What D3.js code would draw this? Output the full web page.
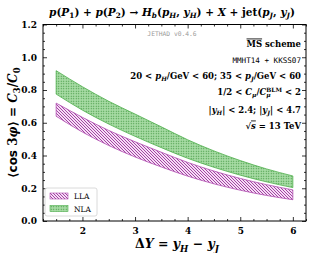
<!DOCTYPE html>
<html>
<head>
<meta charset="utf-8">
<script src="https://cdn.jsdelivr.net/npm/d3@7"></script>
<style>
  body { margin: 0; background: #fff; }
  svg { display: block; }
  .tick text { font-family: "DejaVu Serif", serif; font-weight: bold; font-size: 9px; fill: #000; }
  .tick line { stroke: #000; stroke-width: 0.8; }
</style>
</head>
<body>
<svg id="chart"></svg>
<script>
// values
const deltaY = [1.5, 2, 2.5, 3, 3.5, 4, 4.5, 5, 5.5, 6];
const llaHi = [0.72, 0.633, 0.553, 0.484, 0.42, 0.358, 0.305, 0.26, 0.222, 0.19];
const llaLo = [0.64, 0.543, 0.461, 0.391, 0.33, 0.274, 0.227, 0.188, 0.156, 0.13];
const nlaHi = [0.918, 0.82, 0.731, 0.653, 0.575, 0.496, 0.428, 0.369, 0.318, 0.275];
const nlaLo = [0.775, 0.677, 0.592, 0.517, 0.448, 0.383, 0.328, 0.28, 0.239, 0.204];
const xTicks = [2, 3, 4, 5, 6];
const yTicks = [0, 0.2, 0.4, 0.6, 0.8, 1.0, 1.2];

const W = 316, H = 253;
const box = { left: 43, right: 306, top: 24.5, bottom: 221 };

const svg = d3.select("#chart").attr("width", W).attr("height", H);

const x = d3.scaleLinear().domain([1.25, 6.25]).range([box.left, box.right]);
const y = d3.scaleLinear().domain([0, 1.2]).range([box.bottom, box.top]);

// hatch patterns
const defs = svg.append("defs");
const lp = defs.append("pattern")
	.attr("id", "hatchLLA")
	.attr("patternUnits", "userSpaceOnUse")
	.attr("width", 3).attr("height", 3);
lp.append("rect").attr("width", 3).attr("height", 3).attr("fill", "#f6dcf6");
lp.append("path")
	.attr("d", "M0,0L3,3M-1,2L1,4M2,-1L4,1")
	.attr("stroke", "#8c1f8c").attr("stroke-width", 0.8);

const np = defs.append("pattern")
	.attr("id", "dotsNLA")
	.attr("patternUnits", "userSpaceOnUse")
	.attr("width", 2.5).attr("height", 2.5);
np.append("rect").attr("width", 2.5).attr("height", 2.5).attr("fill", "#a8dca5");
np.append("circle").attr("cx", 1.25).attr("cy", 1.25).attr("r", 0.6).attr("fill", "#3a923a");

const plot = svg.append("g");

const area = (lo, hi) => d3.area()
	.x((d, i) => x(deltaY[i]))
	.y0((d, i) => y(lo[i]))
	.y1((d, i) => y(hi[i]))
	.curve(d3.curveMonotoneX)(deltaY);

plot.append("path")
	.attr("d", area(nlaLo, nlaHi))
	.attr("fill", "url(#dotsNLA)")
	.attr("stroke", "#4cae4a")
	.attr("stroke-width", 0.8);

plot.append("path")
	.attr("d", area(llaLo, llaHi))
	.attr("fill", "url(#hatchLLA)")
	.attr("stroke", "#b04cb0")
	.attr("stroke-width", 0.8);

// axes, ticks pointing inward on all four sides
const xMinor = d3.range(1.25, 6.26, 0.25).filter(v => !xTicks.includes(Math.round(v * 100) / 100));
const yMinor = d3.range(0, 1.201, 0.05).filter(v => Math.round(v * 100) % 20 !== 0);

function addAxis(axis, tx, ty, labels) {
	const g = svg.append("g").attr("transform", `translate(${tx},${ty})`).call(axis);
	g.select(".domain").remove();
	if (!labels) g.selectAll("text").remove();
	return g;
}

addAxis(d3.axisBottom(x).tickValues(xTicks).tickSize(-4).tickPadding(7).tickFormat(d3.format("d")), 0, box.bottom, true);
addAxis(d3.axisBottom(x).tickValues(xMinor).tickSize(-2), 0, box.bottom, false);
addAxis(d3.axisTop(x).tickValues(xTicks).tickSize(-4), 0, box.top, false);
addAxis(d3.axisTop(x).tickValues(xMinor).tickSize(-2), 0, box.top, false);
addAxis(d3.axisLeft(y).tickValues(yTicks).tickSize(-4).tickPadding(6).tickFormat(d3.format(".1f")), box.left, 0, true);
addAxis(d3.axisLeft(y).tickValues(yMinor).tickSize(-2), box.left, 0, false);
addAxis(d3.axisRight(y).tickValues(yTicks).tickSize(-4), box.right, 0, false);
addAxis(d3.axisRight(y).tickValues(yMinor).tickSize(-2), box.right, 0, false);

svg.append("rect")
	.attr("x", box.left).attr("y", box.top)
	.attr("width", box.right - box.left).attr("height", box.bottom - box.top)
	.attr("fill", "none").attr("stroke", "#000").attr("stroke-width", 1);

// rich text: parts are [text, style]; style: i italic, b sub, p sup, s sans, k stacked over previous
function rich(sel, parts, size) {
	let shift = 0;
	let prev = null;
	parts.forEach(([t, s]) => {
		s = s || "";
		const ts = sel.append("tspan").text(t);
		let target = 0;
		if (s.includes("b")) target = size * 0.28;
		if (s.includes("p")) target = -size * 0.38;
		ts.attr("dy", target - shift);
		shift = target;
		if (s.includes("b") || s.includes("p")) ts.attr("font-size", size * 0.7);
		if (s.includes("i")) ts.attr("font-style", "italic");
		if (s.includes("s")) ts.attr("font-family", "'DejaVu Sans', sans-serif");
		if (s.includes("k") && prev) ts.attr("dx", -prev.node().getComputedTextLength());
		prev = ts;
	});
	return sel;
}

const serif = "'DejaVu Serif', serif";

// title
const title = svg.append("text")
	.attr("x", 172).attr("y", 15.5)
	.attr("text-anchor", "middle")
	.attr("font-family", serif).attr("font-weight", "bold").attr("font-size", 10.5);
rich(title, [
	["p", "i"], ["("], ["P", "i"], ["1", "b"], [")"], [" + "], ["p", "i"], ["("], ["P", "i"], ["2", "b"], [")"],
	[" → "], ["H", "i"], ["b", "bi"], ["("], ["p", "i"], ["H", "bi"], [", "], ["y", "i"], ["H", "bi"], [")"],
	[" + "], ["X", "i"], [" + jet("], ["p", "i"], ["J", "bi"], [", "], ["y", "i"], ["J", "bi"], [")"]
], 10.5);

// watermark
svg.append("text")
	.attr("x", 172).attr("y", 35.5)
	.attr("text-anchor", "middle")
	.attr("font-family", "'DejaVu Sans Mono', monospace").attr("font-size", 6.3)
	.attr("fill", "#9a9a9a")
	.text("JETHAD v0.4.6");

// annotations
const noteX = 301;
const ms = svg.append("text")
	.attr("x", noteX).attr("y", 46.5)
	.attr("text-anchor", "end")
	.attr("font-family", serif).attr("font-weight", "bold").attr("font-size", 8.5);
ms.append("tspan").attr("text-decoration", "overline").text("MS");
ms.append("tspan").text(" scheme");

svg.append("text")
	.attr("x", noteX).attr("y", 62.5)
	.attr("text-anchor", "end")
	.attr("font-family", "'DejaVu Sans Mono', monospace").attr("font-size", 7.6)
	.text("MMHT14 + KKSS07");

const note3 = svg.append("text")
	.attr("x", noteX).attr("y", 78.5)
	.attr("text-anchor", "end")
	.attr("font-family", serif).attr("font-weight", "bold").attr("font-size", 8.5);
rich(note3, [["20 < "], ["p", "i"], ["H", "bi"], ["/GeV < 60;  35 < "], ["p", "i"], ["J", "bi"], ["/GeV < 60"]], 8.5);

const note4 = svg.append("text")
	.attr("x", noteX).attr("y", 95)
	.attr("text-anchor", "end")
	.attr("font-family", serif).attr("font-weight", "bold").attr("font-size", 8.5);
rich(note4, [["1/2 < "], ["C", "i"], ["μ", "bi"], ["/"], ["C", "i"], ["μ", "bi"], ["BLM", "pk"], [" < 2"]], 8.5);

const note5 = svg.append("text")
	.attr("x", noteX).attr("y", 113)
	.attr("text-anchor", "end")
	.attr("font-family", serif).attr("font-weight", "bold").attr("font-size", 8.5);
rich(note5, [["|"], ["y", "i"], ["H", "bi"], ["| < 2.4;  |"], ["y", "i"], ["J", "bi"], ["| < 4.7"]], 8.5);

const note6 = svg.append("text")
	.attr("x", noteX).attr("y", 128.5)
	.attr("text-anchor", "end")
	.attr("font-family", serif).attr("font-weight", "bold").attr("font-size", 8.5);
note6.append("tspan").text("√");
note6.append("tspan").attr("font-style", "italic").attr("text-decoration", "overline").text("s");
note6.append("tspan").text(" = 13 TeV");

// axis titles
const xl = svg.append("text")
	.attr("x", 177).attr("y", 248)
	.attr("text-anchor", "middle")
	.attr("font-family", serif).attr("font-weight", "bold").attr("font-size", 12.5);
rich(xl, [["Δ"], ["Y", "i"], [" = "], ["y", "i"], ["H", "bi"], [" − "], ["y", "i"], ["J", "bi"]], 12.5);

const yl = svg.append("text")
	.attr("transform", `translate(17,${(box.top + box.bottom) / 2}) rotate(-90)`)
	.attr("text-anchor", "middle")
	.attr("font-family", serif).attr("font-weight", "bold").attr("font-size", 12);
rich(yl, [["⟨"], ["cos", "s"], [" 3"], ["φ", "i"], ["⟩ = "], ["C", "i"], ["3", "b"], ["/"], ["C", "i"], ["0", "b"]], 12);

// legend
const leg = svg.append("g").attr("transform", "translate(45,188)");
leg.append("rect")
	.attr("width", 52).attr("height", 28).attr("rx", 2)
	.attr("fill", "#fff").attr("stroke", "#d0d0d0").attr("stroke-width", 0.8);
const legItems = [["LLA", "url(#hatchLLA)", "#b04cb0"], ["NLA", "url(#dotsNLA)", "#4cae4a"]];
legItems.forEach(([name, fill, edge], i) => {
	leg.append("rect")
		.attr("x", 5).attr("y", 5 + i * 12.5)
		.attr("width", 18).attr("height", 6)
		.attr("fill", fill).attr("stroke", edge).attr("stroke-width", 0.6);
	leg.append("text")
		.attr("x", 29).attr("y", 11 + i * 12.5)
		.attr("font-family", "'DejaVu Serif', serif").attr("font-size", 7.5)
		.text(name);
});
</script>
</body>
</html>
